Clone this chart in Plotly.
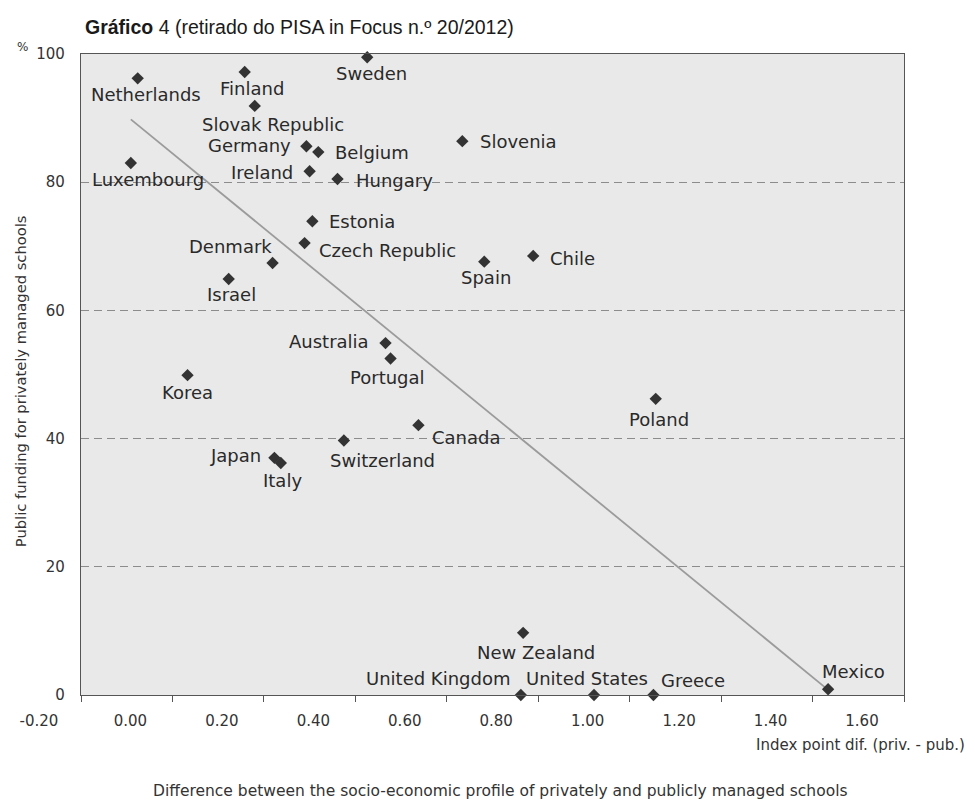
import plotly.graph_objects as go

# ---------------- data ----------------
countries = ["Netherlands", "Finland", "Sweden", "Slovak Republic", "Germany", "Belgium",
             "Slovenia", "Luxembourg", "Ireland", "Hungary", "Estonia", "Czech Republic",
             "Denmark", "Israel", "Spain", "Chile", "Australia", "Portugal", "Korea",
             "Canada", "Switzerland", "Japan", "Italy", "Poland", "New Zealand",
             "United Kingdom", "United States", "Greece", "Mexico"]
index_diff = [-0.076, 0.158, 0.426, 0.180, 0.293, 0.319,
              0.634, -0.091, 0.300, 0.361, 0.306, 0.289,
              0.219, 0.123, 0.682, 0.789, 0.466, 0.477, 0.033,
              0.538, 0.375, 0.223, 0.237, 1.057, 0.767,
              0.762, 0.922, 1.052, 1.434]
public_funding = [96.2, 97.2, 99.5, 91.9, 85.6, 84.7,
                  86.4, 83.0, 81.7, 80.5, 73.9, 70.5,
                  67.4, 64.9, 67.6, 68.5, 54.9, 52.5, 49.9,
                  42.1, 39.7, 37.0, 36.2, 46.2, 9.7,
                  0.0, 0.0, 0.0, 0.9]
trend_x = [-0.091, 1.434]
trend_y = [89.8, 0.8]
x_ticks = [-0.2, 0.0, 0.2, 0.4, 0.6, 0.8, 1.0, 1.2, 1.4, 1.6]
x_tick_labels = ["-0.20", "0.00", "0.20", "0.40", "0.60", "0.80", "1.00", "1.20", "1.40", "1.60"]
y_ticks = [0, 20, 40, 60, 80, 100]

# ---------------- label placement (style) ----------------
# anchor, dx (px, right), dy (px, down)
label_place = {
    "Netherlands": ("center", 8, 16), "Finland": ("center", 7, 17), "Sweden": ("center", 4, 16),
    "Slovak Republic": ("center", 18, 19), "Germany": ("right", -13, -1), "Belgium": ("left", 15, 0),
    "Slovenia": ("left", 16, 0), "Luxembourg": ("center", 17, 17), "Ireland": ("right", -15, 1),
    "Hungary": ("left", 16, 1), "Estonia": ("left", 15, 0), "Czech Republic": ("left", 12, 7),
    "Denmark": ("right", 1, -16), "Israel": ("center", 3, 16), "Spain": ("center", 2, 16),
    "Chile": ("left", 15, 3), "Australia": ("right", -15, -2), "Portugal": ("center", -3, 19),
    "Korea": ("center", 0, 17), "Canada": ("left", 12, 12), "Switzerland": ("left", -16, 20),
    "Japan": ("right", -11, -2), "Italy": ("center", 2, 18), "Poland": ("center", 3, 21),
    "New Zealand": ("center", 13, 20), "United Kingdom": ("right", -9, -17),
    "United States": ("center", -7, -17), "Greece": ("left", 6, -15), "Mexico": ("center", 25, -18),
}

LABEL_FONT = dict(family="DejaVu Sans", size=18, color="#2a2a2a")
AX_FONT = dict(family="DejaVu Sans", size=15, color="#333333")

fig = go.Figure()

fig.add_trace(go.Scatter(
    x=trend_x, y=trend_y, mode="lines",
    line=dict(color="#9b9b9b", width=1.8), hoverinfo="skip", showlegend=False))

fig.add_trace(go.Scatter(
    x=index_diff, y=public_funding, mode="markers",
    marker=dict(symbol="diamond", size=9.5, color="#333333", line=dict(width=0)),
    text=countries, showlegend=False, cliponaxis=False))

annotations = []
for c, xv, yv in zip(countries, index_diff, public_funding):
    anc, dx, dy = label_place[c]
    annotations.append(dict(x=xv, y=yv, xref="x", yref="y", text=c, showarrow=False,
                            xanchor=anc, yanchor="middle", xshift=dx, yshift=-dy,
                            font=LABEL_FONT))

# page body adds an 8px margin; compensate so the plot lands at the reference pixels
OFF = 8
PL, PT, PRt, PB = 79, 54, 904, 695          # plot area in page pixels
W, H = 975 - OFF, 801 - OFF
L, T = PL - OFF, PT - OFF
R = (975 - PRt)
B = (801 - PB)
PW, PH = PRt - PL, PB - PT

def px_to_paper(px, py):
    return (px - PL) / PW, (PB - py) / PH

# title
tx, ty = px_to_paper(81, 27)
annotations.append(dict(x=tx, y=ty, xref="paper", yref="paper", xanchor="left", yanchor="middle",
                        showarrow=False,
                        text="<b>Gráfico</b> 4 (retirado do PISA in Focus n.º 20/2012)",
                        font=dict(family="Liberation Sans", size=19.5, color="#1a1a1a")))
# percent sign
px_, py_ = px_to_paper(20, 47)
annotations.append(dict(x=px_, y=py_, xref="paper", yref="paper", xanchor="center", yanchor="middle",
                        showarrow=False, text="%", font=dict(family="DejaVu Sans", size=12, color="#333")))
# y title
yx, yy = px_to_paper(18, 381)
annotations.append(dict(x=yx, y=yy, xref="paper", yref="paper", xanchor="center", yanchor="middle",
                        showarrow=False, textangle=-90,
                        text="Public funding for privately managed schools",
                        font=dict(family="DejaVu Sans", size=14.7, color="#333")))
# x title
xx, xy = px_to_paper(967, 745)
annotations.append(dict(x=xx, y=xy, xref="paper", yref="paper", xanchor="right", yanchor="middle",
                        showarrow=False, text="Index point dif. (priv. - pub.)",
                        font=dict(family="DejaVu Sans", size=15, color="#333")))
# caption
cx, cy = px_to_paper(500, 791)
annotations.append(dict(x=cx, y=cy, xref="paper", yref="paper", xanchor="center", yanchor="middle",
                        showarrow=False,
                        text="Difference between the socio-economic profile of privately and publicly managed schools",
                        font=dict(family="DejaVu Sans", size=15.5, color="#333")))

fig.update_layout(
    width=W, height=H,
    margin=dict(l=L, r=R, t=T, b=B, pad=0),
    paper_bgcolor="white", plot_bgcolor="#e9e9e9",
    annotations=annotations,
    xaxis=dict(range=[-0.2, 1.6], tickvals=x_ticks, ticktext=x_tick_labels,
               ticks="outside", ticklen=6, tickcolor="#555", tickwidth=1,
               ticklabelshift=-42, ticklabelstandoff=6,
               showline=True, linecolor="#555", linewidth=1.3, mirror=True,
               showgrid=False, zeroline=False, tickfont=AX_FONT, fixedrange=True),
    yaxis=dict(range=[0, 100], tickvals=y_ticks, ticks="", ticklabelstandoff=12,
               showline=True, linecolor="#555", linewidth=1.3, mirror=True,
               showgrid=True, gridcolor="#8c8c8c", gridwidth=1, griddash="8px,5px",
               zeroline=False, tickfont=AX_FONT, fixedrange=True),
    font=dict(family="DejaVu Sans"),
)

fig.write_html("out.html")
